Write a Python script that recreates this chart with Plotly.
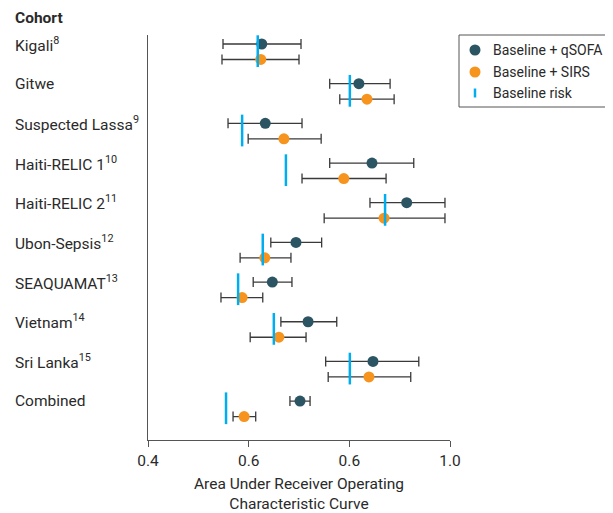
import plotly.graph_objects as go

cohorts = ["Kigali<sup>8</sup>", "Gitwe", "Suspected Lassa<sup>9</sup>", "Haiti-RELIC 1<sup>10</sup>",
           "Haiti-RELIC 2<sup>11</sup>", "Ubon-Sepsis<sup>12</sup>", "SEAQUAMAT<sup>13</sup>",
           "Vietnam<sup>14</sup>", "Sri Lanka<sup>15</sup>", "Combined"]

qsofa = [0.626, 0.819, 0.633, 0.845, 0.914, 0.694, 0.647, 0.718, 0.847, 0.702]
qsofa_lo = [0.549, 0.761, 0.559, 0.761, 0.841, 0.644, 0.609, 0.664, 0.753, 0.682]
qsofa_hi = [0.704, 0.881, 0.706, 0.928, 0.990, 0.745, 0.686, 0.775, 0.938, 0.722]

sirs = [0.624, 0.835, 0.670, 0.789, 0.869, 0.632, 0.587, 0.660, 0.839, 0.591]
sirs_lo = [0.547, 0.781, 0.599, 0.706, 0.750, 0.583, 0.545, 0.603, 0.758, 0.569]
sirs_hi = [0.700, 0.889, 0.744, 0.873, 0.990, 0.684, 0.628, 0.714, 0.922, 0.614]

baseline = [0.618, 0.801, 0.587, 0.674, 0.871, 0.628, 0.579, 0.650, 0.801, 0.555]

tick_vals = [0.4, 0.6, 0.8, 1.0]
tick_text = ["0.4", "0.6", "0.6", "1.0"]

legend_names = ["Baseline + qSOFA", "Baseline + SIRS", "Baseline risk"]

FONT = "Roboto"
FS = 15.5
LFS = 14
TEAL = "#2b5563"
ORANGE = "#f7941d"
BLUE = "#00aeef"
ERR = "#3a3a3a"
TXT = "#2a2a2a"

W, H = 605, 505
L, R, T, B = 140, 163, 27, 73
PW, PH = W - L - R, H - T - B


def px(x):
    return (x - L) / PW


def py(y):
    return (H - B - y) / PH


rows = list(range(len(cohorts)))
off = 0.39

fig = go.Figure()

fig.add_trace(go.Scatter(
    x=qsofa, y=rows, mode="markers", name=legend_names[0], showlegend=False,
    marker=dict(color=TEAL, size=11),
    error_x=dict(type="data", symmetric=False,
                 array=[h - v for h, v in zip(qsofa_hi, qsofa)],
                 arrayminus=[v - l for v, l in zip(qsofa, qsofa_lo)],
                 color=ERR, thickness=1.3, width=5)))

fig.add_trace(go.Scatter(
    x=sirs, y=[r + off for r in rows], mode="markers", name=legend_names[1], showlegend=False,
    marker=dict(color=ORANGE, size=11),
    error_x=dict(type="data", symmetric=False,
                 array=[h - v for h, v in zip(sirs_hi, sirs)],
                 arrayminus=[v - l for v, l in zip(sirs, sirs_lo)],
                 color=ERR, thickness=1.3, width=5)))

bx, by = [], []
for i, b in enumerate(baseline):
    bx += [b, b, None]
    by += [i - 0.22, i + 0.58, None]
fig.add_trace(go.Scatter(x=bx, y=by, mode="lines", line=dict(color=BLUE, width=2.5),
                         name=legend_names[2], showlegend=False, hoverinfo="skip"))

anns = [dict(text="<b>Cohort</b>", xref="paper", yref="paper", x=px(5), y=py(10),
             xanchor="left", yanchor="middle", showarrow=False,
             font=dict(family=FONT, size=FS, color=TXT))]
for i, c in enumerate(cohorts):
    anns.append(dict(text=c, xref="paper", yref="y", x=px(5), y=i,
                     xanchor="left", yanchor="middle", showarrow=False,
                     font=dict(family=FONT, size=FS, color=TXT)))

# manual legend
shapes = [dict(type="rect", xref="paper", yref="paper", x0=px(451), x1=px(604),
               y0=py(27), y1=py(99), line=dict(color="#555", width=1), fillcolor="white",
               layer="below")]
leg_y = [42, 64, 85]
for k, (name, col) in enumerate(zip(legend_names, [TEAL, ORANGE, BLUE])):
    if k < 2:
        shapes.append(dict(type="circle", xref="paper", yref="paper",
                           xsizemode="pixel", ysizemode="pixel",
                           xanchor=px(467), yanchor=py(leg_y[k]),
                           x0=-5.5, x1=5.5, y0=-5.5, y1=5.5,
                           fillcolor=col, line=dict(width=0)))
    else:
        shapes.append(dict(type="line", xref="paper", yref="paper",
                           xsizemode="pixel", ysizemode="pixel",
                           xanchor=px(467), yanchor=py(leg_y[k]),
                           x0=0, x1=0, y0=-4.5, y1=4.5,
                           line=dict(color=col, width=2.5)))
    anns.append(dict(text=name, xref="paper", yref="paper", x=px(483), y=py(leg_y[k]),
                     xanchor="left", yanchor="middle", showarrow=False,
                     font=dict(family=FONT, size=LFS, color=TXT)))

fig.update_layout(
    width=W, height=H,
    margin=dict(l=L, r=R, t=T, b=B, autoexpand=False),
    paper_bgcolor="white", plot_bgcolor="white",
    font=dict(family=FONT, size=FS, color=TXT),
    showlegend=False,
    xaxis=dict(range=[0.4, 1.0], tickvals=tick_vals, ticktext=tick_text,
               showgrid=False, zeroline=False, showline=True, linecolor="#555",
               linewidth=1.2, ticks="outside", ticklen=6, tickcolor="#555",
               tickfont=dict(family=FONT, size=FS, color=TXT),
               title=dict(text="Area Under Receiver Operating<br>Characteristic Curve",
                          font=dict(family=FONT, size=FS, color=TXT), standoff=10)),
    yaxis=dict(range=[9.98, -0.227], showgrid=False, zeroline=False,
               showticklabels=False, showline=True, linecolor="#555", linewidth=1.2,
               ticks=""),
    annotations=anns,
    shapes=shapes,
)

fig.write_html("out.html")
